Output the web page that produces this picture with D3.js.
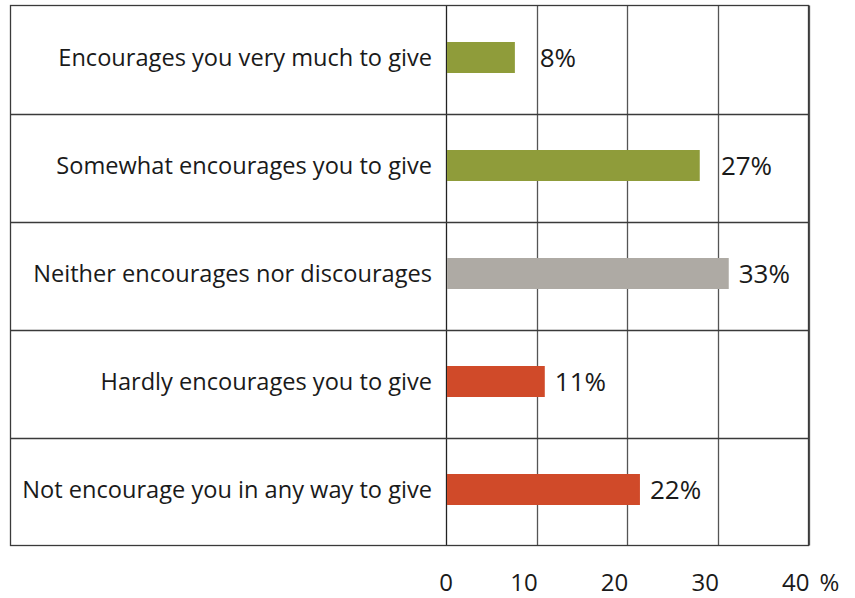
<!DOCTYPE html>
<html>
<head>
<meta charset="utf-8">
<script src="https://cdn.jsdelivr.net/npm/d3@7"></script>
<style>
  body { margin: 0; background: #fff; }
  text { font-family: "Open Sans", "Noto Sans", sans-serif; fill: #1a1a1a; }
</style>
</head>
<body>
<svg id="chart" width="855" height="598"></svg>
<script>
// data
const categories = [
  "Encourages you very much to give",
  "Somewhat encourages you to give",
  "Neither encourages nor discourages",
  "Hardly encourages you to give",
  "Not encourage you in any way to give"
];
const barValues = [7.6, 28.0, 31.2, 10.9, 21.4];
const valueLabels = ["8%", "27%", "33%", "11%", "22%"];
const groups = ["pos", "pos", "neutral", "neg", "neg"];
const tickValues = [0, 10, 20, 30, 40];

const colors = { pos: "#8f9c3a", neutral: "#aeaaa4", neg: "#d04a29" };

const svg = d3.select("#chart");
const frame = { left: 10.5, top: 5.5, right: 808.5, bottom: 545.5 };
const plotLeft = 446;

const x = d3.scaleLinear().domain([0, 40]).range([plotLeft, frame.right]);
const y = d3.scaleBand().domain(categories).range([frame.top, frame.bottom]);

const barH = 31;

// vertical gridlines
svg.append("g")
  .selectAll("line")
  .data(tickValues)
  .join("line")
  .attr("x1", d => Math.round(x(d)) + 0.5)
  .attr("x2", d => Math.round(x(d)) + 0.5)
  .attr("y1", frame.top)
  .attr("y2", frame.bottom)
  .attr("stroke", d => d === 0 ? "#222" : "#555")
  .attr("stroke-width", 1.3);

// row separators
svg.append("g")
  .selectAll("line")
  .data(categories.slice(1))
  .join("line")
  .attr("x1", frame.left)
  .attr("x2", frame.right)
  .attr("y1", d => Math.round(y(d)) + 0.5)
  .attr("y2", d => Math.round(y(d)) + 0.5)
  .attr("stroke", "#3a3a3a")
  .attr("stroke-width", 1.3);

// outer frame
svg.append("rect")
  .attr("x", frame.left)
  .attr("y", frame.top)
  .attr("width", frame.right - frame.left)
  .attr("height", frame.bottom - frame.top)
  .attr("fill", "none")
  .attr("stroke", "#3a3a3a")
  .attr("stroke-width", 1.3);

const rows = categories.map((c, i) => ({
  cat: c, value: barValues[i], label: valueLabels[i], group: groups[i]
}));

const rowMid = d => y(d.cat) + y.bandwidth() / 2 - 2;

// bars
svg.append("g")
  .selectAll("rect")
  .data(rows)
  .join("rect")
  .attr("x", x(0) + 1)
  .attr("y", d => rowMid(d) - barH / 2)
  .attr("width", d => x(d.value) - x(0) - 1)
  .attr("height", barH)
  .attr("fill", d => colors[d.group]);

// category labels
svg.append("g")
  .selectAll("text")
  .data(rows)
  .join("text")
  .attr("x", 432)
  .attr("y", d => rowMid(d))
  .attr("dy", "0.36em")
  .attr("text-anchor", "end")
  .attr("font-size", 23.6)
  .text(d => d.cat);

// value labels, nudged past a gridline when they would sit on it
svg.append("g")
  .selectAll("text")
  .data(rows)
  .join("text")
  .attr("y", d => rowMid(d))
  .attr("dy", "0.36em")
  .attr("font-size", 26)
  .text(d => d.label)
  .attr("x", function (d) {
    let lx = x(d.value) + 10;
    const w = this.getComputedTextLength();
    tickValues.forEach(t => {
      const gx = x(t);
      if (gx > lx - 2 && gx < lx + w) lx = gx + 3;
    });
    return lx;
  });

// x tick labels
svg.append("g")
  .selectAll("text")
  .data(tickValues)
  .join("text")
  .attr("x", d => x(d) + (d === 0 ? 0 : 1))
  .attr("y", 591)
  .attr("text-anchor", d => d === 0 ? "middle" : "end")
  .attr("font-size", 24)
  .text(d => d);

svg.append("text")
  .attr("x", x(40) + 11)
  .attr("y", 591)
  .attr("font-size", 24)
  .text("%");
</script>
</body>
</html>
